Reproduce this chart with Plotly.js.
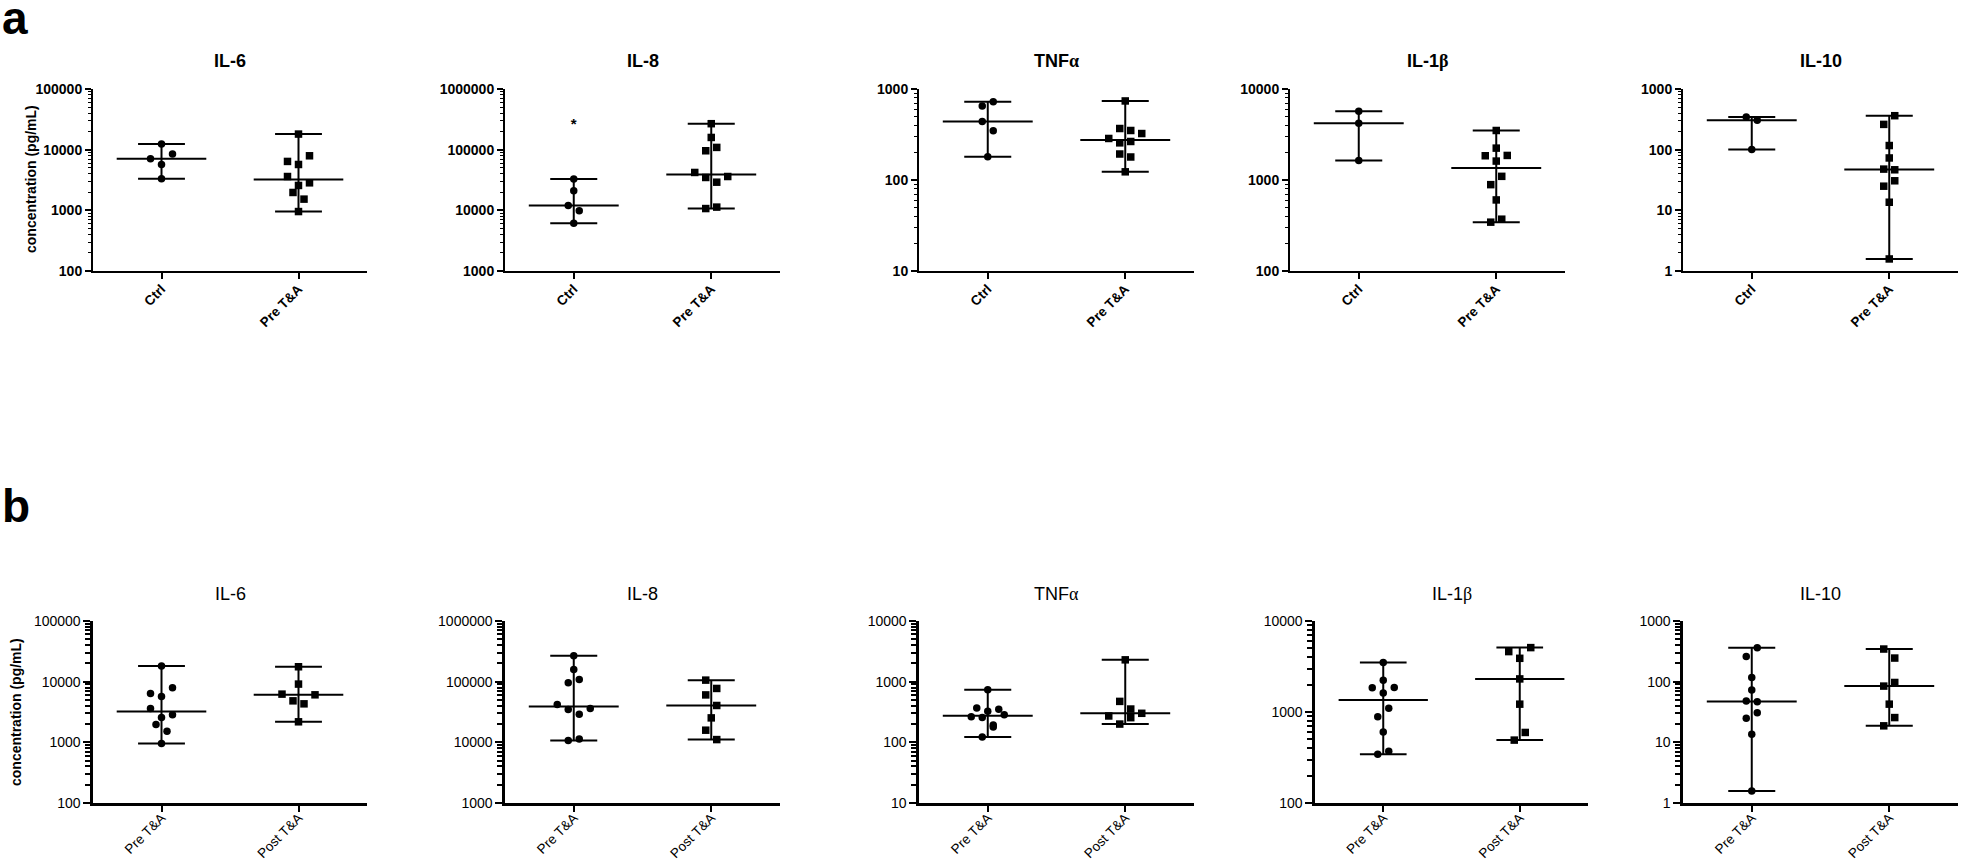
<!DOCTYPE html>
<html><head><meta charset="utf-8">
<script src="https://cdn.plot.ly/plotly-3.0.1.min.js"></script>
<style>html,body{margin:0;padding:0;background:#fff;}#chart{width:1961px;height:863px;}</style>
</head><body><div id="chart"></div>
<script>
// ---------------- data (pg/mL) ----------------
const cytokineTitles = ['IL-6', 'IL-8',
  "TNF<span style='font-family:Liberation Serif'>α</span>",
  "IL-1<span style='font-family:Liberation Serif'>β</span>",
  'IL-10'];
const groupsA = ['Ctrl', 'Pre T&A'];
const groupsB = ['Pre T&A', 'Post T&A'];
const yTitle = 'concentration (pg/mL)';
const panelLetters = ['a', 'b'];

const ctrl_IL6 = [12360, 5700, 7080, 8500, 3310];
const pre_IL6  = [18070, 5700, 6400, 7930, 2570, 3610, 2840, 1970, 1530, 955];
const post_IL6 = [17600, 9120, 4830, 4310, 6230, 6070, 2180];

const ctrl_IL8 = [33000, 20960, 12000, 9800, 6150];
const pre_IL8  = [268000, 159000, 95900, 109000, 34800, 29100, 42100, 36100, 10700, 11300];
const post_IL8 = [106000, 77300, 60500, 40500, 25300, 15850, 11100];
const ctrlStar_IL8 = [248000];

const ctrl_TNFa = [651, 726, 439, 347, 180];
const pre_TNFa  = [739, 256, 193, 265, 286, 324, 368, 350, 123, 179];
const post_TNFa = [2290, 473, 354, 200, 255, 272, 301];

const ctrl_IL1b = [5700, 4210, 1642];
const pre_IL1b  = [3500, 2240, 1614, 1847, 1862, 889, 1097, 604, 344, 371];
const post_IL1b = [3890, 4610, 5100, 2310, 1219, 491, 596];

const ctrl_IL10 = [345, 304, 101];
const pre_IL10  = [261, 363, 117, 73, 47.8, 46.6, 25.0, 30.7, 13.6, 1.58];
const post_IL10 = [345, 245, 84.5, 97, 42.6, 18.7, 25.6];

// y ranges as log10 exponents
const decadesA = [[2, 5], [3, 6], [1, 3], [2, 4], [0, 3]];
const decadesB = [[2, 5], [3, 6], [1, 4], [2, 4], [0, 3]];

const rowAData = [[ctrl_IL6, pre_IL6], [ctrl_IL8, pre_IL8], [ctrl_TNFa, pre_TNFa], [ctrl_IL1b, pre_IL1b], [ctrl_IL10, pre_IL10]];
const rowBData = [[pre_IL6, post_IL6], [pre_IL8, post_IL8], [pre_TNFa, post_TNFa], [pre_IL1b, post_IL1b], [pre_IL10, post_IL10]];

// ---------------- layout geometry ----------------
const W = 1961, H = 863;
const rows = [
  {top: 89, bot: 271, xs: [[93, 367], [505, 780], [919, 1194], [1290, 1565], [1683, 1958]],
   bold: true, data: rowAData, dec: decadesA, groups: groupsA, titleY: 61, axisLW: 2, minorLen: 3, minorW: 1, majorLen: 6,
   xFont: 13.5, xTickLen: 6, xStandoff: -3, ytX: 31, ytY: 179, letterY: 18},
  {top: 621, bot: 803, xs: [[93, 367], [505, 780], [919, 1194], [1315, 1588], [1683, 1958]],
   bold: false, data: rowBData, dec: decadesB, groups: groupsB, titleY: 594, axisLW: 2.6, minorLen: 5, minorW: 2, majorLen: 7,
   xFont: 13.5, xTickLen: 6, xStandoff: -7, ytX: 16, ytY: 712, letterY: 506}
];
const FONT = 'Liberation Sans, Arial, sans-serif';
const CLUSTER_PX = 11.3, SLOT_PX = 11;
const MED_HALF = 0.327, CAP_HALF = 0.171;

function median(arr) {
  const s = [...arr].sort((a, b) => a - b); const n = s.length;
  return n % 2 ? s[(n - 1) / 2] : (s[n / 2 - 1] + s[n / 2]) / 2;
}
function swarm(values, dec, heightPx, pxPerUnit) {
  const pxPerDec = heightPx / (dec[1] - dec[0]);
  const py = values.map(v => Math.log10(v) * pxPerDec);
  const idx = values.map((v, i) => i).sort((a, b) => py[a] - py[b]);
  const clusters = []; let cur = null, start = 0;
  for (const i of idx) {
    if (cur && py[i] - start < CLUSTER_PX) cur.push(i);
    else { cur = [i]; start = py[i]; clusters.push(cur); }
  }
  const off = new Array(values.length).fill(0);
  for (const c of clusters) {
    c.sort((a, b) => a - b); const n = c.length;
    c.forEach((i, k) => {
      let slot;
      if (n % 2) slot = k === 0 ? 0 : (k % 2 ? -Math.ceil(k / 2) : Math.ceil(k / 2));
      else { const m = Math.floor(k / 2) + 0.5; slot = k % 2 ? m : -m; }
      off[i] = slot * SLOT_PX / pxPerUnit;
    });
  }
  return off;
}

const traces = [];
const layout = {
  width: W, height: H, margin: {l: 0, r: 0, t: 0, b: 0},
  paper_bgcolor: '#fff', plot_bgcolor: '#fff', showlegend: false,
  annotations: []
};

let k = 0;
rows.forEach((row, r) => {
  const wt = row.bold ? 700 : 400;
  row.xs.forEach((xd, p) => {
    k++;
    const xa = 'x' + (k > 1 ? k : ''), ya = 'y' + (k > 1 ? k : '');
    const heightPx = row.bot - row.top;
    const pxPerUnit = (xd[1] - xd[0]) / 2;
    const dec = row.dec[p];
    const majors = [], minors = [];
    for (let e = dec[0]; e <= dec[1]; e++) {
      majors.push(Math.pow(10, e));
      if (e < dec[1]) for (let m = 2; m <= 9; m++) minors.push(m * Math.pow(10, e));
    }
    layout['xaxis' + (k > 1 ? k : '')] = {
      domain: [xd[0] / W, xd[1] / W], anchor: ya, type: 'linear', range: [-0.5, 1.5],
      tickmode: 'array', tickvals: [0, 1], ticktext: row.groups, tickangle: -45, ticklabelstandoff: row.xStandoff,
      showline: true, linecolor: '#000', linewidth: row.axisLW, ticks: 'outside', ticklen: row.xTickLen, tickwidth: 2, tickcolor: '#000',
      showgrid: false, zeroline: false, fixedrange: true,
      tickfont: {family: FONT, size: row.xFont, color: '#000', weight: wt}
    };
    layout['yaxis' + (k > 1 ? k : '')] = {
      domain: [1 - row.bot / H, 1 - row.top / H], anchor: xa, type: 'log', range: dec,
      tickmode: 'array', tickvals: majors, ticktext: majors.map(v => String(Math.round(v))),
      showline: true, linecolor: '#000', linewidth: row.axisLW, ticks: 'outside', ticklen: row.majorLen, tickwidth: 2, tickcolor: '#000',
      minor: {tickmode: 'array', tickvals: minors, ticks: 'outside', ticklen: row.minorLen, tickwidth: row.minorW, tickcolor: '#000', showgrid: false},
      showgrid: false, zeroline: false, fixedrange: true,
      tickfont: {family: FONT, size: 14, color: '#000', weight: wt}
    };
    row.data[p].forEach((vals, g) => {
      const med = median(vals), mn = Math.min(...vals), mx = Math.max(...vals);
      traces.push({
        type: 'scatter', mode: 'lines', xaxis: xa, yaxis: ya, hoverinfo: 'skip',
        x: [g - MED_HALF, g + MED_HALF, null, g - CAP_HALF, g + CAP_HALF, null, g - CAP_HALF, g + CAP_HALF, null, g, g],
        y: [med, med, null, mx, mx, null, mn, mn, null, mn, mx],
        line: {color: '#000', width: 2}
      });
      const off = swarm(vals, dec, heightPx, pxPerUnit);
      traces.push({
        type: 'scatter', mode: 'markers', xaxis: xa, yaxis: ya, hoverinfo: 'skip',
        x: vals.map((v, i) => g + off[i]), y: vals,
        marker: {symbol: g === 0 ? 'circle' : 'square', size: 7.5, color: '#000', line: {width: 0}}
      });
    });
    if (r === 0 && p === 1) {
      traces.push({type: 'scatter', mode: 'text', xaxis: xa, yaxis: ya, x: ctrlStar_IL8.map(() => 0), y: ctrlStar_IL8,
        text: ctrlStar_IL8.map(() => '*'), textposition: 'middle center', hoverinfo: 'skip',
        textfont: {family: FONT, size: 15, color: '#000', weight: 700}});
    }
    layout.annotations.push({
      xref: 'paper', yref: 'paper', x: (xd[0] + xd[1]) / 2 / W, y: 1 - row.titleY / H,
      xanchor: 'center', yanchor: 'middle', showarrow: false, text: cytokineTitles[p],
      font: {family: FONT, size: 18, color: '#000', weight: wt}
    });
  });
  layout.annotations.push({
    xref: 'paper', yref: 'paper', x: row.ytX / W, y: 1 - row.ytY / H, xanchor: 'center', yanchor: 'middle',
    showarrow: false, textangle: -90, text: yTitle, font: {family: FONT, size: 14, color: '#000', weight: 700}
  });
  layout.annotations.push({
    xref: 'paper', yref: 'paper', x: 0, y: 1 - row.letterY / H, xanchor: 'left', yanchor: 'middle',
    showarrow: false, text: panelLetters[r], font: {family: FONT, size: 46, color: '#000', weight: 700}
  });
});

Plotly.newPlot('chart', traces, layout, {staticPlot: true, displayModeBar: false});
</script>
</body></html>
